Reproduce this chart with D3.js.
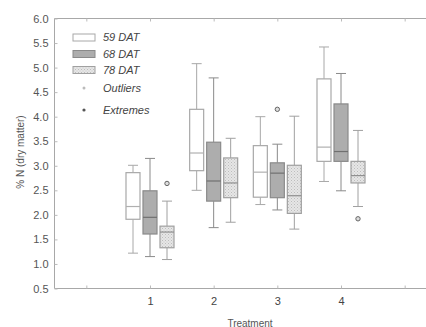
<!DOCTYPE html>
<html>
<head>
<meta charset="utf-8">
<script src="https://cdn.jsdelivr.net/npm/d3@7"></script>
<style>
  body { margin: 0; background: #fff; }
  svg { display: block; font-family: "Liberation Sans", Arial, sans-serif; }
</style>
</head>
<body>
<div id="chart"></div>
<script>
// treatments and series
const treatments = [1, 2, 3, 4];
const seriesNames = ['59 DAT', '68 DAT', '78 DAT'];
const yTicks = [0.5, 1.0, 1.5, 2.0, 2.5, 3.0, 3.5, 4.0, 4.5, 5.0, 5.5, 6.0];
const xTicks = [0, 1, 2, 3, 4, 5];
const xTickLabels = ['', '1', '2', '3', '4', ''];

// box stats per series (one value per treatment)
const lo59 = [1.22, 2.50, 2.21, 2.68];
const q1_59 = [1.91, 2.90, 2.36, 3.09];
const med59 = [2.17, 3.26, 2.87, 3.38];
const q3_59 = [2.86, 4.15, 3.41, 4.77];
const hi59 = [3.01, 5.08, 4.00, 5.42];

const lo68 = [1.15, 1.74, 2.10, 2.49];
const q1_68 = [1.61, 2.28, 2.35, 3.09];
const med68 = [1.95, 2.69, 2.85, 3.29];
const q3_68 = [2.49, 3.48, 3.06, 4.26];
const hi68 = [3.15, 4.79, 3.44, 4.88];

const lo78 = [1.09, 1.85, 1.71, 2.17];
const q1_78 = [1.33, 2.35, 2.03, 2.65];
const med78 = [1.65, 2.65, 2.39, 2.80];
const q3_78 = [1.77, 3.16, 3.01, 3.09];
const hi78 = [2.28, 3.56, 4.01, 3.72];

// outliers: treatment, series index, value
const outlierTreat = [1, 3, 4];
const outlierSeries = [2, 1, 2];
const outlierVals = [2.64, 4.15, 1.92];

const stats = [
  { lo: lo59, q1: q1_59, med: med59, q3: q3_59, hi: hi59 },
  { lo: lo68, q1: q1_68, med: med68, q3: q3_68, hi: hi68 },
  { lo: lo78, q1: q1_78, med: med78, q3: q3_78, hi: hi78 },
];

const width = 426, height = 327;
const fills = ['#ffffff', '#adadad', 'url(#dots)'];
const strokes = ['#a8a8a8', '#8a8a8a', '#a0a0a0'];
const medStrokes = ['#b0b0b0', '#707070', '#909090'];

const svg = d3.select('#chart').append('svg')
  .attr('width', width)
  .attr('height', height);

const defs = svg.append('defs');
const pat = defs.append('pattern')
  .attr('id', 'dots')
  .attr('patternUnits', 'userSpaceOnUse')
  .attr('width', 3).attr('height', 3);
pat.append('rect').attr('width', 3).attr('height', 3).attr('fill', '#e6e6e6');
pat.append('rect').attr('x', 0).attr('y', 0).attr('width', 1).attr('height', 1).attr('fill', '#bdbdbd');
pat.append('rect').attr('x', 1.5).attr('y', 1.5).attr('width', 1).attr('height', 1).attr('fill', '#c8c8c8');

const x = d3.scaleLinear().domain([-0.5, 5.5]).range([54.5, 436.5]);
const y = d3.scaleLinear().domain([0.5, 6]).range([288.5, 18.5]);

const offset = 17, boxW = 14, capW = 10;

// frame
const frame = svg.append('g').attr('stroke', '#a8a8a8').attr('fill', 'none');
frame.append('line').attr('x1', x(-0.5)).attr('x2', x(5.5)).attr('y1', y(6)).attr('y2', y(6));
frame.append('line').attr('x1', x(-0.5)).attr('x2', x(5.5)).attr('y1', y(0.5)).attr('y2', y(0.5));
frame.append('line').attr('x1', x(-0.5)).attr('x2', x(-0.5)).attr('y1', y(6)).attr('y2', y(0.5));

// y axis
const yAxis = d3.axisLeft(y)
  .tickValues(yTicks)
  .tickSize(-3)
  .tickPadding(6)
  .tickFormat(d3.format('.1f'));
const gy = svg.append('g')
  .attr('transform', `translate(${x(-0.5)},0)`)
  .call(yAxis);
gy.select('.domain').remove();
gy.selectAll('line').attr('stroke', '#bbb');
gy.selectAll('text').attr('fill', '#555').style('font-size', '11px');

// x axis (bottom)
const xAxis = d3.axisBottom(x)
  .tickValues(xTicks)
  .tickSize(-3)
  .tickPadding(9)
  .tickFormat((d, i) => xTickLabels[i]);
const gx = svg.append('g')
  .attr('transform', `translate(0,${y(0.5)})`)
  .call(xAxis);
gx.select('.domain').remove();
gx.selectAll('line').attr('stroke', '#bbb');
gx.selectAll('text').attr('fill', '#444').style('font-size', '11px');

// top ticks
const gt = svg.append('g')
  .attr('transform', `translate(0,${y(6)})`)
  .call(d3.axisTop(x).tickValues(xTicks).tickSize(-3).tickFormat(''));
gt.select('.domain').remove();
gt.selectAll('line').attr('stroke', '#bbb');

// boxes
const boxes = svg.append('g');
stats.forEach((s, si) => {
  treatments.forEach((t, ti) => {
    const cx = x(t) + (si - 1) * offset;
    const g = boxes.append('g');
    const st = strokes[si];
    // whiskers
    g.append('line').attr('x1', cx).attr('x2', cx)
      .attr('y1', y(s.hi[ti])).attr('y2', y(s.q3[ti])).attr('stroke', st);
    g.append('line').attr('x1', cx).attr('x2', cx)
      .attr('y1', y(s.q1[ti])).attr('y2', y(s.lo[ti])).attr('stroke', st);
    g.append('line').attr('x1', cx - capW / 2).attr('x2', cx + capW / 2)
      .attr('y1', y(s.hi[ti])).attr('y2', y(s.hi[ti])).attr('stroke', st);
    g.append('line').attr('x1', cx - capW / 2).attr('x2', cx + capW / 2)
      .attr('y1', y(s.lo[ti])).attr('y2', y(s.lo[ti])).attr('stroke', st);
    // box
    g.append('rect')
      .attr('x', cx - boxW / 2)
      .attr('y', y(s.q3[ti]))
      .attr('width', boxW)
      .attr('height', y(s.q1[ti]) - y(s.q3[ti]))
      .attr('fill', fills[si])
      .attr('stroke', st)
      .attr('stroke-width', 1.2);
    g.append('line').attr('x1', cx - boxW / 2).attr('x2', cx + boxW / 2)
      .attr('y1', y(s.med[ti])).attr('y2', y(s.med[ti]))
      .attr('stroke', medStrokes[si]).attr('stroke-width', 1.2);
  });
});

// outliers
outlierVals.forEach((v, i) => {
  svg.append('circle')
    .attr('cx', x(outlierTreat[i]) + (outlierSeries[i] - 1) * offset)
    .attr('cy', y(v))
    .attr('r', 2.2)
    .attr('fill', '#ddd')
    .attr('stroke', '#666')
    .attr('stroke-width', 1);
});

// legend
const legendItems = seriesNames.concat(['Outliers', 'Extremes']);
const legendY = [37.5, 54, 70, 88, 110];
const legend = svg.append('g');
legendItems.forEach((name, i) => {
  if (i < 3) {
    legend.append('rect')
      .attr('x', 73).attr('y', legendY[i] - 3.5)
      .attr('width', 22).attr('height', 7)
      .attr('fill', fills[i]).attr('stroke', strokes[i]);
  } else {
    legend.append('circle')
      .attr('cx', 84).attr('cy', legendY[i])
      .attr('r', i === 3 ? 1.5 : 1.6)
      .attr('fill', i === 3 ? '#bbb' : '#555');
  }
  legend.append('text')
    .attr('x', 103).attr('y', legendY[i])
    .attr('dy', '0.35em')
    .attr('fill', '#444')
    .style('font-size', '11px')
    .style('font-style', 'italic')
    .text(name);
});

// axis titles
svg.append('text')
  .attr('transform', `translate(20,${152}) rotate(-90)`)
  .attr('text-anchor', 'middle')
  .attr('dy', '0.35em')
  .attr('fill', '#555')
  .style('font-size', '10px')
  .text('% N (dry matter)');

svg.append('text')
  .attr('x', 250).attr('y', 323)
  .attr('text-anchor', 'middle')
  .attr('dy', '0.35em')
  .attr('fill', '#555')
  .style('font-size', '10px')
  .text('Treatment');
</script>
</body>
</html>
